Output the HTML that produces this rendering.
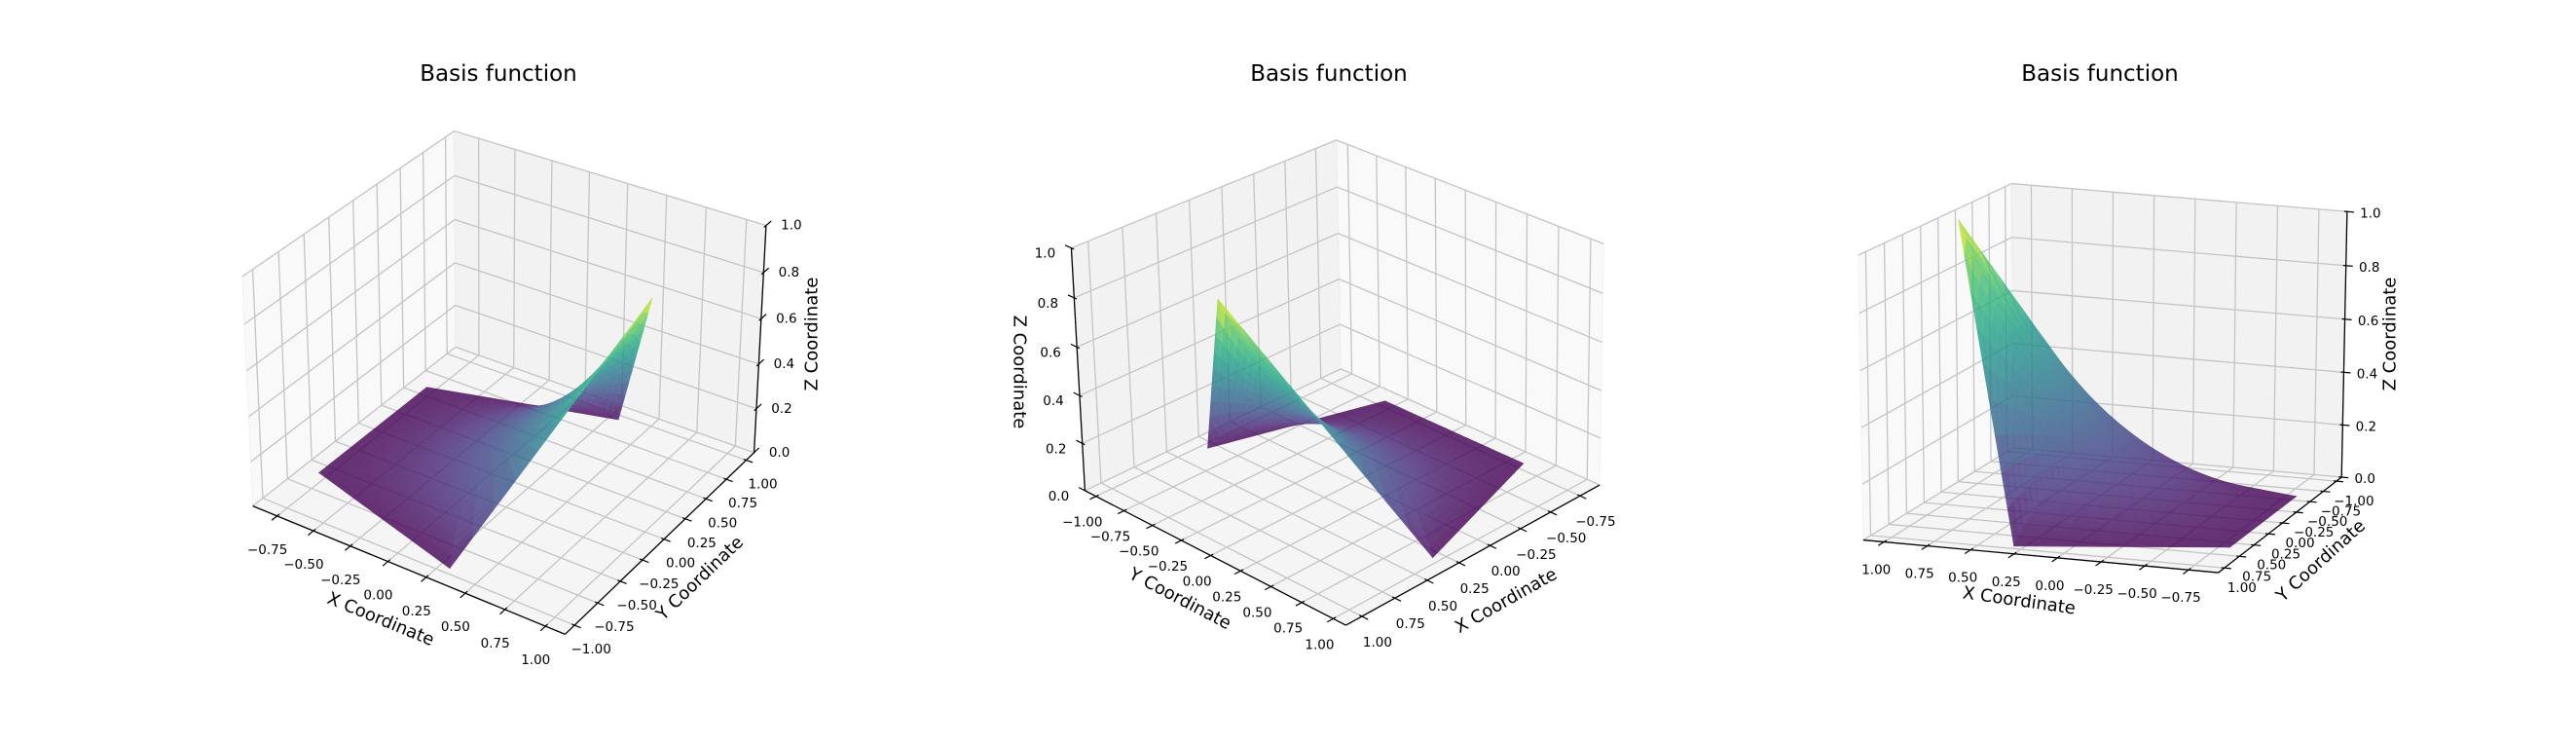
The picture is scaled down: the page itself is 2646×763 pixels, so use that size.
<!DOCTYPE html>
<html><head><meta charset="utf-8"><title>Basis function</title>
<style>
html,body{margin:0;padding:0;background:#fff;}
svg{display:block;font-family:"DejaVu Sans","Liberation Sans",sans-serif;}
</style></head>
<body>
<svg id="fig" xmlns="http://www.w3.org/2000/svg" width="2646" height="763" viewBox="0 0 2646 763">
<rect x="0" y="0" width="2646" height="763" fill="#ffffff"/>
</svg>
<script>
// ---- data: pentagon element nodes and nodal values of the plotted basis function ----
const nodeX = [1.0, 0.309, -0.809, -0.809, 0.309];
const nodeY = [0.0, 0.951, 0.588, -0.588, -0.951];
const nodeValue = [1, 0, 0, 0, 0];
// tick labels
const xTicks = [-0.75, -0.5, -0.25, 0, 0.25, 0.5, 0.75, 1.0];
const yTicks = [-1.0, -0.75, -0.5, -0.25, 0, 0.25, 0.5, 0.75, 1.0];
const zTicks = [0, 0.2, 0.4, 0.6, 0.8, 1.0];
const xLim = [-0.92, 1.12];
const yLim = [-1.1, 1.1];
const zLim = [0, 1];

const NS = "http://www.w3.org/2000/svg";
const svg = document.getElementById('fig');
function mk(tag, attrs, parent) {
  const e = document.createElementNS(NS, tag);
  for (const k in attrs) e.setAttribute(k, attrs[k]);
  (parent || svg).appendChild(e);
  return e;
}
const X0 = xLim[0], X1 = xLim[1], Y0 = yLim[0], Y1 = yLim[1], Z0 = zLim[0], Z1 = zLim[1];

// camera calibration (screen positions of box corners) per view
const panels = [
  { eye: [0.433, -0.75, 0.5],
    cam: [[X0,Y0,Z0,260.8,520],[X1,Y0,Z0,580,651.5],[X1,Y1,Z0,775.4,464.2],[X1,Y1,Z1,786.5,232],
          [X0,Y1,Z0,466.5,356.5],[X0,Y0,Z1,248,283.5],[X0,Y1,Z1,467.7,134.6]],
    xPane: X0, yPane: Y1,
    xAxis: { y: Y0, out: [0,-1,0], off: [-10,35] },
    yAxis: { x: X1, out: [1,0,0], off: [17,25] },
    zAxis: { x: X1, y: Y1, out: [0,1,0], off: [26,0] },
    title: [512, 83],
    xTitle: [391, 636, 22.4], yTitle: [719, 594, -43.8], zTitle: [834, 343, -90] },
  { eye: [0.612, 0.612, 0.5],
    cam: [[X1,Y1,Z0,1383.3,643],[X1,Y0,Z0,1112.7,501.7],[X0,Y1,Z0,1641.8,497.6],[X0,Y0,Z0,1379.3,380.5],
          [X1,Y0,Z1,1101.4,256],[X0,Y0,Z1,1371.2,143],[X0,Y1,Z1,1647.8,250]],
    xPane: X0, yPane: Y0,
    xAxis: { y: Y1, out: [0,1,0], off: [16,27] },
    yAxis: { x: X1, out: [1,0,0], off: [-14,27] },
    zAxis: { x: X1, y: Y0, out: [0,-1,0], off: [-27,6] },
    title: [1365, 83],
    xTitle: [1547, 617, -29.4], yTitle: [1212, 615, 27.6], zTitle: [1047, 382, 90] },
  { eye: [-0.168, 0.951, 0.259],
    cam: [[X1,Y1,Z0,1914.1,545.1],[X0,Y1,Z0,2278.4,597.1],[X0,Y0,Z0,2405.8,478.7],[X0,Y0,Z1,2410.5,220.3],
          [X1,Y1,Z1,1908.7,262.6],[X1,Y0,Z1,2066.6,185.1],[X1,Y0,Z0,2067.4,471.5]],
    xPane: X1, yPane: Y0,
    xAxis: { y: Y1, out: [0,1,0], off: [-8,29] },
    yAxis: { x: X0, out: [-1,0,0], off: [18,21] },
    zAxis: { x: X0, y: Y0, out: [-1,0,0], off: [24,2] },
    title: [2157, 83],
    xTitle: [2074, 617, 8.1], yTitle: [2384, 576, -42], zTitle: [2455, 343, -90] }
];

function solveCam(pts) {
  let mu = 0, mv = 0;
  pts.forEach(p => { mu += p[3]; mv += p[4]; });
  mu /= pts.length; mv /= pts.length;
  const s = 300, rows = [], rhs = [];
  pts.forEach(p => {
    const [X, Y, Z] = p, un = (p[3]-mu)/s, vn = (p[4]-mv)/s;
    rows.push([X,Y,Z,1,0,0,0,0,-un*X,-un*Y,-un*Z]); rhs.push(un);
    rows.push([0,0,0,0,X,Y,Z,1,-vn*X,-vn*Y,-vn*Z]); rhs.push(vn);
  });
  const n = 11, M = [];
  for (let i = 0; i < n; i++) {
    M.push(new Array(n+1).fill(0));
    for (let j = 0; j < n; j++) for (let r = 0; r < rows.length; r++) M[i][j] += rows[r][i]*rows[r][j];
    for (let r = 0; r < rows.length; r++) M[i][n] += rows[r][i]*rhs[r];
    M[i][i] += 1e-9;
  }
  for (let c = 0; c < n; c++) {
    let piv = c;
    for (let r = c+1; r < n; r++) if (Math.abs(M[r][c]) > Math.abs(M[piv][c])) piv = r;
    [M[c], M[piv]] = [M[piv], M[c]];
    for (let r = 0; r < n; r++) if (r !== c) {
      const f = M[r][c]/M[c][c];
      for (let k = c; k <= n; k++) M[r][k] -= f*M[c][k];
    }
  }
  const P = M.map((row, i) => row[n]/row[i]);
  return function (X, Y, Z) {
    const w = P[8]*X + P[9]*Y + P[10]*Z + 1;
    return [(P[0]*X+P[1]*Y+P[2]*Z+P[3])/w*s + mu, (P[4]*X+P[5]*Y+P[6]*Z+P[7])/w*s + mv];
  };
}

// viridis colormap
const VIR = ["#440154","#482878","#3e4989","#31688e","#26828e","#1f9e89","#35b779","#6ece58","#b5de2b","#fde725"];
const VIRT = [0,0.125,0.25,0.375,0.5,0.625,0.75,0.875,0.9375,1];
function hex(h){return [parseInt(h.substr(1,2),16),parseInt(h.substr(3,2),16),parseInt(h.substr(5,2),16)];}
function viridis(t) {
  t = Math.max(0, Math.min(1, t));
  let i = 0; while (i < VIRT.length-2 && t > VIRT[i+1]) i++;
  const f = (t-VIRT[i])/(VIRT[i+1]-VIRT[i]), a = hex(VIR[i]), b = hex(VIR[i+1]);
  return 'rgb(' + a.map((v,k)=>Math.round(v+(b[k]-v)*f)).join(',') + ')';
}

// Wachspress basis on polygon nodes
function triA(ax,ay,bx,by,cx,cy){return 0.5*((bx-ax)*(cy-ay)-(cx-ax)*(by-ay));}
function interp(px, py) {
  const n = nodeX.length, w = [];
  let sum = 0;
  for (let i = 0; i < n; i++) {
    const ip = (i+n-1)%n, inx = (i+1)%n;
    const C = triA(nodeX[ip],nodeY[ip],nodeX[i],nodeY[i],nodeX[inx],nodeY[inx]);
    const A1 = triA(px,py,nodeX[ip],nodeY[ip],nodeX[i],nodeY[i]);
    const A2 = triA(px,py,nodeX[i],nodeY[i],nodeX[inx],nodeY[inx]);
    const wi = C/(A1*A2); w.push(wi); sum += wi;
  }
  let z = 0; for (let i = 0; i < n; i++) z += w[i]/sum*nodeValue[i];
  return z;
}
// mesh of the polygon: rings x boundary samples
const RINGS = 22, PER_EDGE = 9;
function meshPoints() {
  const n = nodeX.length, bnd = [];
  for (let i = 0; i < n; i++) {
    const j = (i+1)%n;
    for (let k = 0; k < PER_EDGE; k++) {
      const f = k/PER_EDGE;
      bnd.push([nodeX[i]+(nodeX[j]-nodeX[i])*f, nodeY[i]+(nodeY[j]-nodeY[i])*f,
                nodeValue[i]+(nodeValue[j]-nodeValue[i])*f]);
    }
  }
  let cx = 0, cy = 0; nodeX.forEach((v,i)=>{cx+=v; cy+=nodeY[i];}); cx/=n; cy/=n;
  const rings = [];
  for (let r = 0; r <= RINGS; r++) {
    const f = r/RINGS, ring = [];
    bnd.forEach(b => {
      const px = cx+(b[0]-cx)*f, py = cy+(b[1]-cy)*f;
      const z = (r === RINGS) ? b[2] : interp(px+1e-12, py+1e-12);
      ring.push([px, py, z]);
    });
    rings.push(ring);
  }
  return rings;
}
const rings = meshPoints();

function fmt(v, d) { const s = Math.abs(v).toFixed(d); return (v < -1e-9 ? '\u2212' : '') + s; }

panels.forEach((pn, pi) => {
  const proj = solveCam(pn.cam);
  const g = mk('g', {});
  
  
  const pt = (X,Y,Z) => proj(X,Y,Z).map(v=>v.toFixed(2)).join(',');
  const poly = (pts, attrs, name) => {
    const e = mk('polygon', Object.assign({points: pts.map(p=>pt(p[0],p[1],p[2])).join(' ')}, attrs), g);
    
    
    return e;
  };
  const line = (a, b, attrs, name, parent) => {
    const pa = proj(a[0],a[1],a[2]), pb = proj(b[0],b[1],b[2]);
    const e = mk('line', Object.assign({x1:pa[0],y1:pa[1],x2:pb[0],y2:pb[1]}, attrs), parent || g);
    
    
    return e;
  };
  // panes
  const xp = pn.xPane, yp = pn.yPane;
  poly([[xp,Y0,Z0],[xp,Y1,Z0],[xp,Y1,Z1],[xp,Y0,Z1]], {fill:'#f9f9f9', stroke:'#f2f2f2', 'stroke-width':1}, 'x-pane');
  poly([[X0,yp,Z0],[X1,yp,Z0],[X1,yp,Z1],[X0,yp,Z1]], {fill:'#f2f2f2', stroke:'#ececec', 'stroke-width':1}, 'y-pane');
  poly([[X0,Y0,Z0],[X1,Y0,Z0],[X1,Y1,Z0],[X0,Y1,Z0]], {fill:'#f5f5f5', stroke:'#eeeeee', 'stroke-width':1}, 'floor-pane');
  // grid
  const ga = {stroke:'#c4c4c4', 'stroke-width':1.3};
  const grid = mk('g', {}, g);
  
  
  xTicks.forEach(v => { line([v,yp,Z0],[v,yp,Z1],ga,'grid-x',grid); line([v,Y0,Z0],[v,Y1,Z0],ga,'grid-x',grid); });
  yTicks.forEach(v => { line([xp,v,Z0],[xp,v,Z1],ga,'grid-y',grid); line([X0,v,Z0],[X1,v,Z0],ga,'grid-y',grid); });
  zTicks.forEach(v => { line([xp,Y0,v],[xp,Y1,v],ga,'grid-z',grid); line([X0,yp,v],[X1,yp,v],ga,'grid-z',grid); });
  // axes lines, ticks, labels
  const axA = {stroke:'#000', 'stroke-width':1.3};
  const tickDir = (p, out) => {
    const a = proj(p[0],p[1],p[2]), b = proj(p[0]+out[0]*0.2, p[1]+out[1]*0.2, p[2]+out[2]*0.2);
    const dx = b[0]-a[0], dy = b[1]-a[1], L = Math.hypot(dx,dy) || 1;
    return [a, dx/L, dy/L];
  };
  const drawTick = (p, out, off, text, name) => {
    const [a, ux, uy] = tickDir(p, out);
    const t = mk('line', {x1:a[0]-ux*3, y1:a[1]-uy*3, x2:a[0]+ux*7, y2:a[1]+uy*7, stroke:'#000', 'stroke-width':1.2}, g);
    
    
    const tx = mk('text', {x:a[0]+off[0], y:a[1]+off[1], 'font-size':13.5, 'text-anchor':'middle', 'dominant-baseline':'central', fill:'#000'}, g);
    tx.textContent = text;
    
    
  };
  const xa = pn.xAxis, ya = pn.yAxis, za = pn.zAxis;
  line([X0,xa.y,Z0],[X1,xa.y,Z0],axA,'x-axis-line');
  line([ya.x,Y0,Z0],[ya.x,Y1,Z0],axA,'y-axis-line');
  line([za.x,za.y,Z0],[za.x,za.y,Z1],axA,'z-axis-line');
  xTicks.forEach(v => drawTick([v,xa.y,Z0], xa.out, xa.off, fmt(v,2), 'x'));
  yTicks.forEach(v => drawTick([ya.x,v,Z0], ya.out, ya.off, fmt(v,2), 'y'));
  zTicks.forEach(v => drawTick([za.x,za.y,v], za.out, za.off, fmt(v,1), 'z'));
  // surface
  const sg = mk('g', {opacity:0.8}, g);
  
  
  const e = pn.eye;
  const nx = x => (x-X0)/(X1-X0)*4, ny = y => (y-Y0)/(Y1-Y0)*4, nz = z => (z-Z0)/(Z1-Z0)*3;
  const tris = [];
  for (let r = 0; r < RINGS; r++) {
    const A = rings[r], B = rings[r+1], m = A.length;
    for (let k = 0; k < m; k++) {
      const k2 = (k+1)%m;
      tris.push([A[k], B[k], B[k2]]);
      if (r > 0) tris.push([A[k], B[k2], A[k2]]);
    }
  }
  tris.forEach(t => {
    t.depth = t.reduce((s,p)=>s + e[0]*nx(p[0]) + e[1]*ny(p[1]) + e[2]*nz(p[2]), 0);
    t.zc = (t[0][2]+t[1][2]+t[2][2])/3;
  });
  tris.sort((a,b)=>a.depth-b.depth);
  tris.forEach(t => {
    const c = viridis((t.zc - 0)/(1 - 0));
    const el = mk('polygon', {points: t.map(p=>pt(p[0],p[1],p[2])).join(' '), fill:c, stroke:c, 'stroke-width':0.6, 'stroke-linejoin':'round'}, sg);
    
    
  });
  // titles
  const ttl = mk('text', {x:pn.title[0], y:pn.title[1], 'font-size':23, 'text-anchor':'middle', fill:'#000'}, g);
  ttl.textContent = 'Basis function';
  
  
  [['xTitle','X Coordinate','x-axis-title'],['yTitle','Y Coordinate','y-axis-title'],['zTitle','Z Coordinate','z-axis-title']].forEach(([k,txt,nm]) => {
    const [x,y,rot] = pn[k];
    const t = mk('text', {x:x, y:y, 'font-size':18, 'text-anchor':'middle', 'dominant-baseline':'central', fill:'#000', transform:'rotate(' + rot + ' ' + x + ' ' + y + ')'}, g);
    t.textContent = txt;
    
    
  });
});
</script>
</body></html>
